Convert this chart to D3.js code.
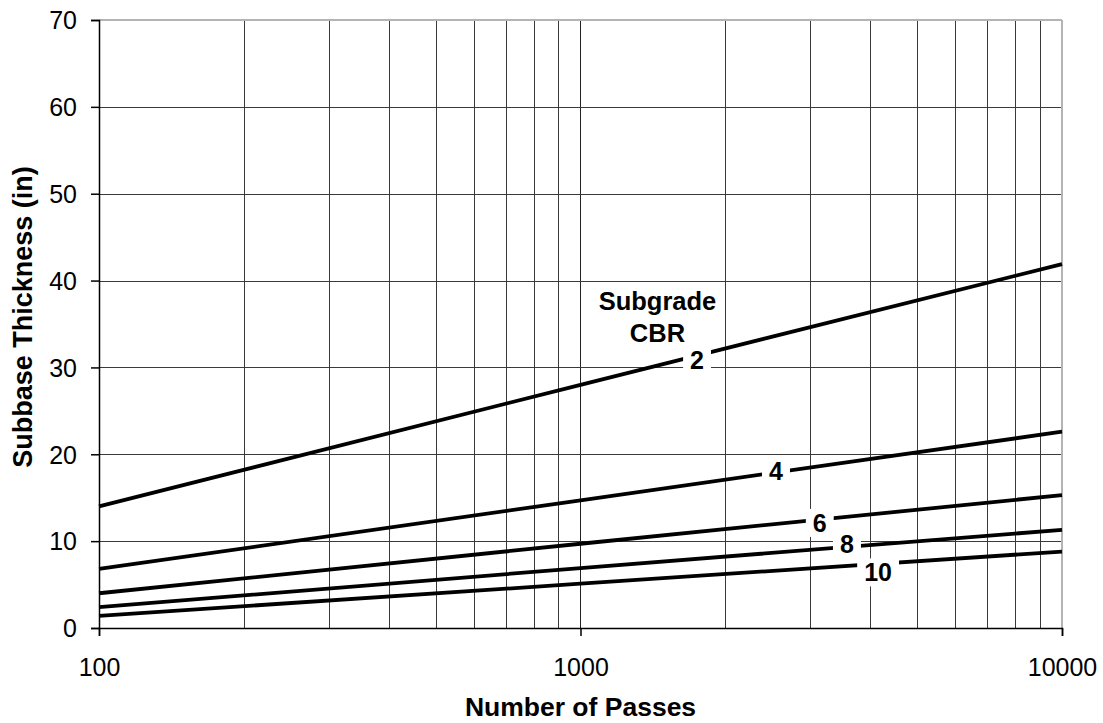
<!DOCTYPE html>
<html>
<head>
<meta charset="utf-8">
<script src="https://cdn.jsdelivr.net/npm/d3@7"></script>
<style>
  body { margin: 0; background: #fff; }
  svg { font-family: "Liberation Sans", Arial, sans-serif; }
</style>
</head>
<body>
<svg id="chart" width="1103" height="723"></svg>
<script>
// values
var passes = [100, 1000, 10000];
var cbr2  = [14.0, 28.0, 41.9];
var cbr4  = [6.8, 14.7, 22.6];
var cbr6  = [4.0, 9.7, 15.3];
var cbr8  = [2.4, 6.9, 11.3];
var cbr10 = [1.4, 5.1, 8.8];

var cbrNames = ["2", "4", "6", "8", "10"];
var series = [cbr2, cbr4, cbr6, cbr8, cbr10];

// where each curve label sits (passes, thickness)
var labelPasses = [1746, 2546, 3140, 3575, 4150];
var labelThick  = [30.9, 18.1, 12.1, 9.7, 6.4];

var yTicks = [0, 10, 20, 30, 40, 50, 60, 70];
var xMajor = [100, 1000, 10000];

var svg = d3.select("#chart"),
    margin = {top: 20, right: 41, bottom: 95, left: 99},
    width = +svg.attr("width") - margin.left - margin.right,
    height = +svg.attr("height") - margin.top - margin.bottom;

var x = d3.scaleLog().domain([100, 10000]).range([0, width]);
var y = d3.scaleLinear().domain([0, 70]).range([height, 0]);

var g = svg.append("g")
    .attr("transform", "translate(" + margin.left + "," + margin.top + ")");

// vertical grid, including minor log lines
var xMinor = [];
[100, 1000].forEach(function(d) {
  for (var k = 2; k <= 9; k++) xMinor.push(d * k);
});

g.selectAll(".vminor").data(xMinor).enter().append("line")
    .attr("x1", function(d) { return Math.round(x(d)) + 0.5; })
    .attr("x2", function(d) { return Math.round(x(d)) + 0.5; })
    .attr("y1", 0).attr("y2", height)
    .attr("stroke", "#3a3a3a").attr("stroke-width", 1);

g.selectAll(".vmajor").data([1000]).enter().append("line")
    .attr("x1", function(d) { return Math.round(x(d)) + 0.5; })
    .attr("x2", function(d) { return Math.round(x(d)) + 0.5; })
    .attr("y1", 0).attr("y2", height)
    .attr("stroke", "#222").attr("stroke-width", 1);

g.selectAll(".hgrid").data(yTicks.slice(1, -1)).enter().append("line")
    .attr("x1", 0).attr("x2", width)
    .attr("y1", function(d) { return Math.round(y(d)) + 0.5; })
    .attr("y2", function(d) { return Math.round(y(d)) + 0.5; })
    .attr("stroke", "#3a3a3a").attr("stroke-width", 1);

// top and right border (light)
g.append("line").attr("x1", 0).attr("x2", width).attr("y1", 0).attr("y2", 0)
    .attr("stroke", "#b4b4b4").attr("stroke-width", 2);
g.append("line").attr("x1", width).attr("x2", width).attr("y1", 0).attr("y2", height)
    .attr("stroke", "#b4b4b4").attr("stroke-width", 2);

// curves
var line = d3.line()
    .x(function(d) { return x(d[0]); })
    .y(function(d) { return y(d[1]); });

series.forEach(function(vals) {
  g.append("path")
      .datum(passes.map(function(p, i) { return [p, vals[i]]; }))
      .attr("fill", "none")
      .attr("stroke", "#000")
      .attr("stroke-width", 3.8)
      .attr("d", line);
});

// axes
var yAxis = g.append("g")
    .call(d3.axisLeft(y).tickValues(yTicks).tickSize(8).tickPadding(14));
var xAxis = g.append("g")
    .attr("transform", "translate(0," + height + ")")
    .call(d3.axisBottom(x).tickValues(xMajor).tickFormat(d3.format("d")).tickSize(8).tickPadding(22));

[yAxis, xAxis].forEach(function(a) {
  a.select(".domain").attr("stroke", "#000").attr("stroke-width", 1.5);
  a.selectAll(".tick line").attr("stroke", "#000").attr("stroke-width", 1.5);
  a.selectAll("text").attr("font-size", 25).attr("fill", "#000")
      .attr("font-family", "'Liberation Sans', Arial, sans-serif");
});
yAxis.selectAll("text").attr("dy", "0.35em");

// curve labels with white boxes
series.forEach(function(vals, i) {
  var lg = g.append("g")
      .attr("transform", "translate(" + x(labelPasses[i]) + "," + y(labelThick[i]) + ")");
  var t = lg.append("text")
      .attr("text-anchor", "middle")
      .attr("dy", "0.36em")
      .attr("font-size", 25)
      .attr("font-weight", "bold")
      .text(cbrNames[i]);
  var bb = t.node().getBBox();
  lg.insert("rect", "text")
      .attr("x", bb.x - 7).attr("y", bb.y)
      .attr("width", bb.width + 14).attr("height", bb.height)
      .attr("fill", "#fff");
});

// "Subgrade CBR" caption
var cap = g.append("text")
    .attr("text-anchor", "middle")
    .attr("font-size", 25.5)
    .attr("font-weight", "bold");
cap.append("tspan").attr("x", x(1445)).attr("y", y(36.6)).text("Subgrade");
cap.append("tspan").attr("x", x(1445)).attr("y", y(32.9)).text("CBR");

// axis titles
svg.append("text")
    .attr("x", margin.left + width / 2)
    .attr("y", 716)
    .attr("text-anchor", "middle")
    .attr("font-size", 26.5)
    .attr("font-weight", "bold")
    .text("Number of Passes");

svg.append("text")
    .attr("transform", "translate(32," + 317 + ") rotate(-90)")
    .attr("text-anchor", "middle")
    .attr("font-size", 27)
    .attr("font-weight", "bold")
    .text("Subbase Thickness (in)");
</script>
</body>
</html>
